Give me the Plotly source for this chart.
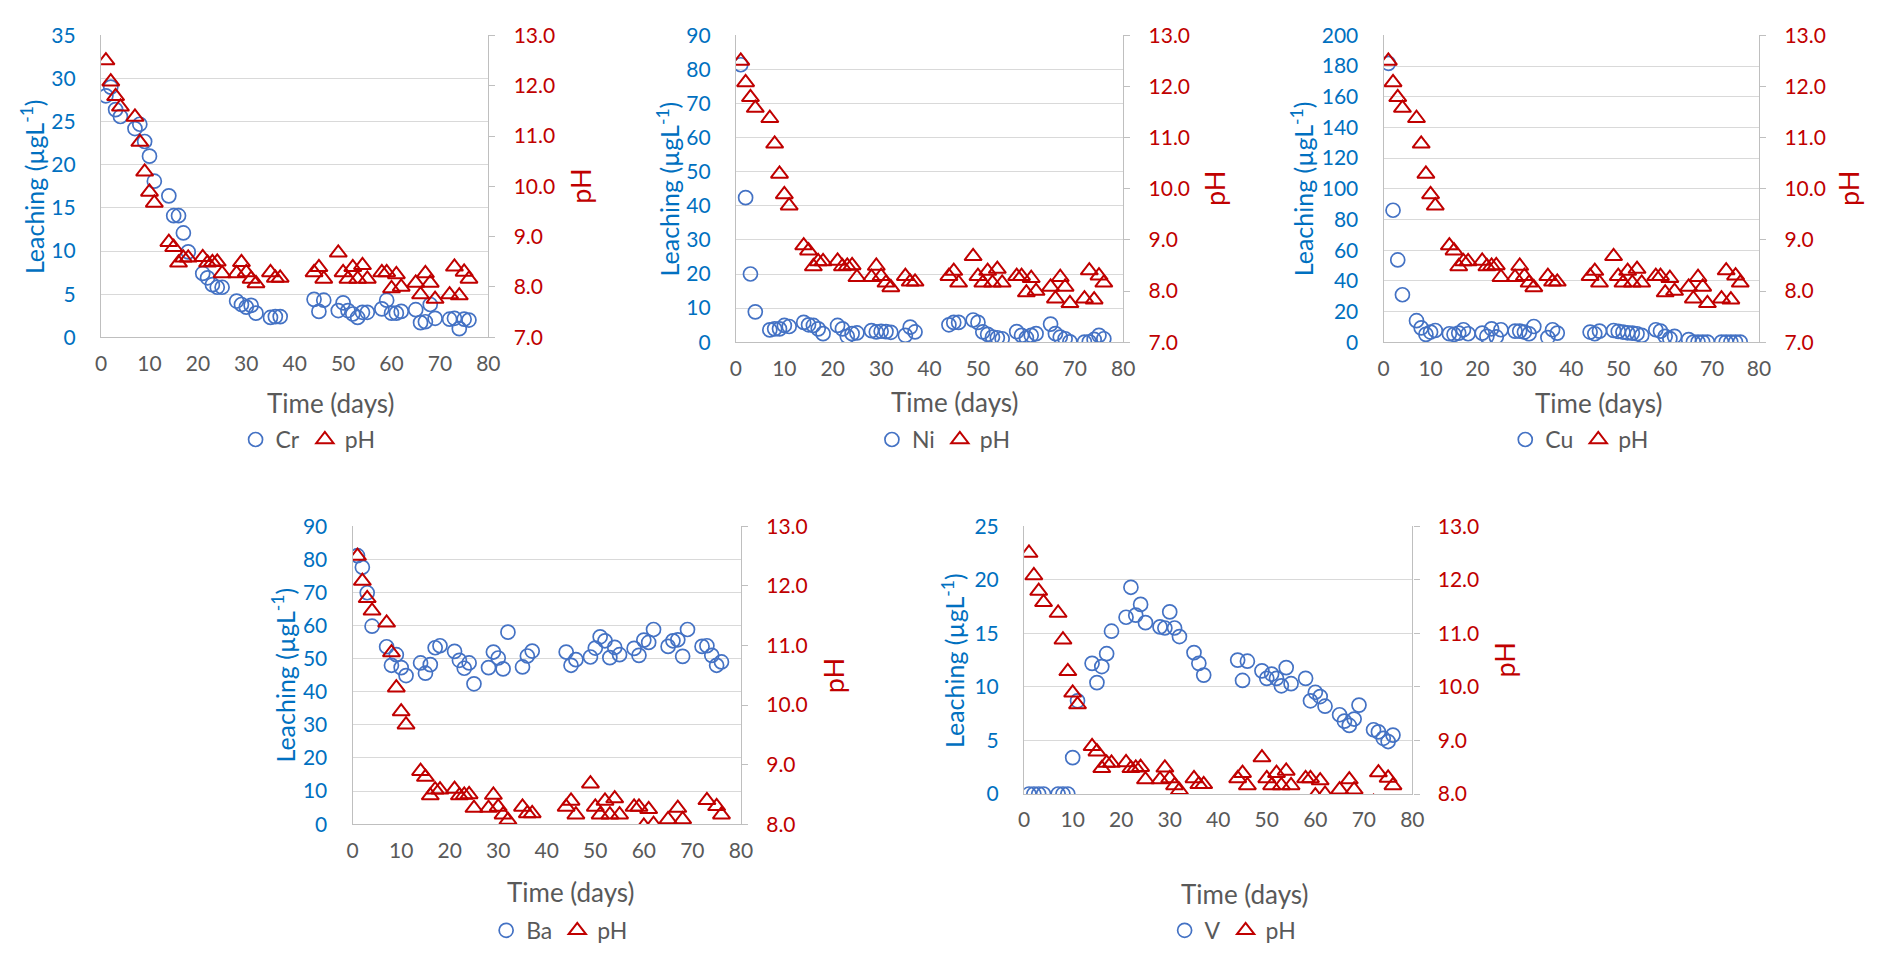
import plotly.graph_objects as go

# ---------------- data ----------------
days = [1, 2, 3, 4, 7, 8, 9, 10, 11, 14, 15, 16, 17, 18, 21, 22, 23, 24, 25,
        28, 29, 30, 31, 32, 35, 36, 37, 44, 45, 46, 49, 50, 51, 52, 53, 54, 55,
        58, 59, 60, 61, 62, 65, 66, 67, 68, 69, 72, 73, 74, 75, 76]

ph = [12.5, 12.08, 11.79, 11.58, 11.38, 10.88, 10.29, 9.89, 9.67, 8.89, 8.79, 8.48,
      8.58, 8.58, 8.59, 8.48, 8.49, 8.5, 8.27, 8.27, 8.49, 8.29, 8.16, 8.07, 8.29,
      8.18, 8.18, 8.29, 8.39, 8.16, 8.68, 8.29, 8.16, 8.39, 8.16, 8.43, 8.16, 8.29,
      8.29, 7.97, 8.25, 8.0, 8.08, 7.85, 8.27, 8.08, 7.76, 7.85, 8.4, 7.83, 8.3, 8.16]

cr = [28.0, 29.0, 26.4, 25.6, 24.2, 24.7, 22.7, 21.0, 18.1, 16.4, 14.1, 14.1, 12.1,
      9.9, 7.4, 6.9, 6.1, 5.8, 5.8, 4.2, 3.8, 3.5, 3.7, 2.8, 2.3, 2.4, 2.4, 4.4, 3.0,
      4.3, 3.1, 4.0, 3.1, 2.7, 2.3, 2.9, 2.9, 3.3, 4.3, 2.8, 2.8, 3.0, 3.2, 1.7, 1.8,
      3.8, 2.2, 2.1, 2.2, 1.0, 2.1, 2.0]

ni = [81.4, 42.4, 20.0, 8.9, 3.6, 3.9, 3.9, 4.9, 4.6, 5.8, 5.1, 4.9, 3.9, 2.5, 4.9,
      3.9, 1.7, 2.5, 2.7, 3.4, 3.0, 3.2, 3.1, 2.9, 2.0, 4.4, 3.0, 5.1, 5.8, 5.8, 6.5,
      5.8, 3.0, 2.3, 1.5, 1.3, 1.0, 3.1, 2.0, 1.3, 2.0, 2.5, 5.3, 2.5, 1.5, 1.0, 0.1,
      0.0, 0.1, 0.8, 2.0, 1.0]

cu = [181.8, 86.0, 53.6, 30.9, 14.0, 9.3, 5.1, 6.6, 7.6, 5.5, 5.1, 5.9, 8.1, 5.5,
      5.9, 3.8, 8.7, 3.4, 8.1, 7.2, 7.2, 6.6, 5.5, 10.2, 3.0, 8.1, 5.9, 6.6, 5.5, 7.2,
      7.6, 7.0, 6.6, 6.1, 5.9, 5.5, 4.4, 8.1, 7.2, 3.8, 2.3, 3.8, 1.7, 0.0, 0.0, 0.0,
      0.0, 0.0, 0.0, 0.0, 0.0, 0.0]

ba = [81.1, 77.6, 69.9, 59.8, 53.6, 48.0, 51.2, 47.3, 44.9, 48.7, 45.6, 48.2, 53.3,
      53.9, 52.2, 49.5, 47.1, 48.7, 42.4, 47.3, 52.0, 50.2, 46.9, 58.0, 47.5, 50.8,
      52.3, 52.0, 48.0, 49.7, 50.5, 53.2, 56.6, 55.4, 50.3, 53.4, 51.2, 53.1, 51.0,
      55.6, 54.9, 58.8, 53.7, 55.4, 55.7, 50.7, 58.8, 53.7, 53.9, 51.0, 48.0, 49.0]

v = [0.0, 0.0, 0.0, 0.0, 0.0, 0.0, 0.0, 3.4, 8.7, 12.2, 10.4, 11.9, 13.1, 15.2, 16.5,
     19.3, 16.7, 17.7, 16.0, 15.6, 15.5, 17.0, 15.5, 14.7, 13.2, 12.2, 11.1, 12.5,
     10.6, 12.4, 11.5, 10.8, 11.2, 10.8, 10.1, 11.8, 10.3, 10.8, 8.7, 9.5, 9.1, 8.2,
     7.4, 6.8, 6.4, 7.0, 8.3, 6.0, 5.8, 5.2, 4.9, 5.5]

metal_names = ["Cr", "Ni", "Cu", "Ba", "V"]
metal_values = [cr, ni, cu, ba, v]
left_max = [35, 90, 200, 90, 25]
left_dtick = [5, 10, 20, 10, 5]
ph_min = [7, 7, 7, 8, 8]
ph_max = 13
x_max = 80
x_dtick = 10

x_title = "Time (days)"
y_title = "Leaching (µgL<sup>-1</sup>)"
ph_title = "pH"

# ---------------- layout (pixels) ----------------
W, H = 1877, 954
# plot areas: x0, x1, ytop, ybottom
boxes = [(96, 487, 22, 332), (737, 1128, 22, 337), (1391, 1770, 22, 337),
         (350, 742, 526, 832), (1028, 1420, 526, 801)]
ytitle_x = [27, 669, 1309, 280, 956]
phtitle_x = [580, 1221, 1861, 835, 1513]
xtitle_pos = [(328, 399), (958, 398), (1608, 399), (570, 902), (1250, 904)]
legend_pos = [(305, 437), (947, 437), (1589, 437), (559, 941), (1239, 941)]

FONT = "Lato, Carlito, Calibri, sans-serif"
BLUE_TXT = "#0070C0"
RED = "#C00000"
BLUE_MK = "#4472C4"
GRAY_TXT = "#595959"
GRID = "#D9D9D9"
AXLINE = "#BFBFBF"
TICK_SIZE = 21


def px(x):
    return x / W


def py(y):
    return 1 - y / H


fig = go.Figure()
layout = dict(
    width=W, height=H, margin=dict(l=0, r=0, t=0, b=0),
    paper_bgcolor="white", plot_bgcolor="white",
    font=dict(family=FONT, size=TICK_SIZE, color=GRAY_TXT),
    annotations=[],
)

for i in range(5):
    k = i + 1
    xa = "x" if k == 1 else f"x{k}"
    ya_l = "y" if k == 1 else f"y{2 * k - 1}"
    ya_r = f"y{2 * k}"
    lg = "legend" if k == 1 else f"legend{k}"
    x0, x1, yt, yb = boxes[i]

    fig.add_trace(go.Scatter(
        x=days, y=metal_values[i], mode="markers", name=metal_names[i],
        marker=dict(symbol="circle-open", size=14, color=BLUE_MK, line=dict(width=1.7)),
        xaxis=xa, yaxis=ya_l, legend=lg, cliponaxis=True))
    fig.add_trace(go.Scatter(
        x=days, y=ph, mode="markers", name="pH",
        marker=dict(symbol="triangle-up-open", size=15, color=RED, line=dict(width=2.0)),
        xaxis=xa, yaxis=ya_r, legend=lg, cliponaxis=True))

    xkey = "xaxis" if k == 1 else f"xaxis{k}"
    ylkey = "yaxis" if k == 1 else f"yaxis{2 * k - 1}"
    yrkey = f"yaxis{2 * k}"

    layout[xkey] = dict(
        domain=[px(x0), px(x1)], anchor=ya_l, range=[0, x_max], dtick=x_dtick,
        tick0=0, showgrid=False, zeroline=False, showline=True, linecolor=AXLINE,
        linewidth=1.3, ticks="", ticklabelstandoff=7,
        tickfont=dict(family=FONT, size=TICK_SIZE, color=GRAY_TXT), fixedrange=True)
    layout[ylkey] = dict(
        domain=[py(yb), py(yt)], anchor=xa, range=[0, left_max[i]], dtick=left_dtick[i],
        tick0=0, showgrid=True, gridcolor=GRID, gridwidth=1.3, zeroline=False,
        showline=True, linecolor=AXLINE, linewidth=1.3, ticks="",
        ticklabelstandoff=20, tickfont=dict(family=FONT, size=TICK_SIZE, color=BLUE_TXT),
        fixedrange=True)
    layout[yrkey] = dict(
        overlaying=ya_l, side="right", anchor=xa, range=[ph_min[i], ph_max], dtick=1,
        tick0=0, tickformat=".1f", showgrid=False, zeroline=False, showline=True,
        linecolor=AXLINE, linewidth=1.3, ticks="outside", ticklen=6,
        tickcolor=AXLINE, tickwidth=1.3, ticklabelstandoff=14,
        tickfont=dict(family=FONT, size=TICK_SIZE, color=RED), fixedrange=True)

    layout[lg] = dict(
        x=px(legend_pos[i][0]), y=py(legend_pos[i][1]), xanchor="center",
        yanchor="middle", orientation="h", bgcolor="rgba(0,0,0,0)",
        font=dict(family=FONT, size=23, color=GRAY_TXT), itemwidth=30,
        tracegroupgap=0)

    ymid = (yt + yb) / 2
    layout["annotations"] += [
        dict(text=y_title, x=px(ytitle_x[i]), y=py(ymid), xref="paper", yref="paper",
             showarrow=False, textangle=-90, xanchor="center", yanchor="middle",
             font=dict(family=FONT, size=25, color=BLUE_TXT)),
        dict(text=ph_title, x=px(phtitle_x[i]), y=py(ymid), xref="paper", yref="paper",
             showarrow=False, textangle=-90, xanchor="center", yanchor="middle",
             font=dict(family=FONT, size=27, color=RED)),
        dict(text=x_title, x=px(xtitle_pos[i][0]), y=py(xtitle_pos[i][1]), xref="paper",
             yref="paper", showarrow=False, xanchor="center", yanchor="middle",
             font=dict(family=FONT, size=26, color=GRAY_TXT)),
    ]

fig.update_layout(**layout)
fig.write_html("out.html", config={"displayModeBar": False},
               post_script="document.body.style.margin='0px';")
